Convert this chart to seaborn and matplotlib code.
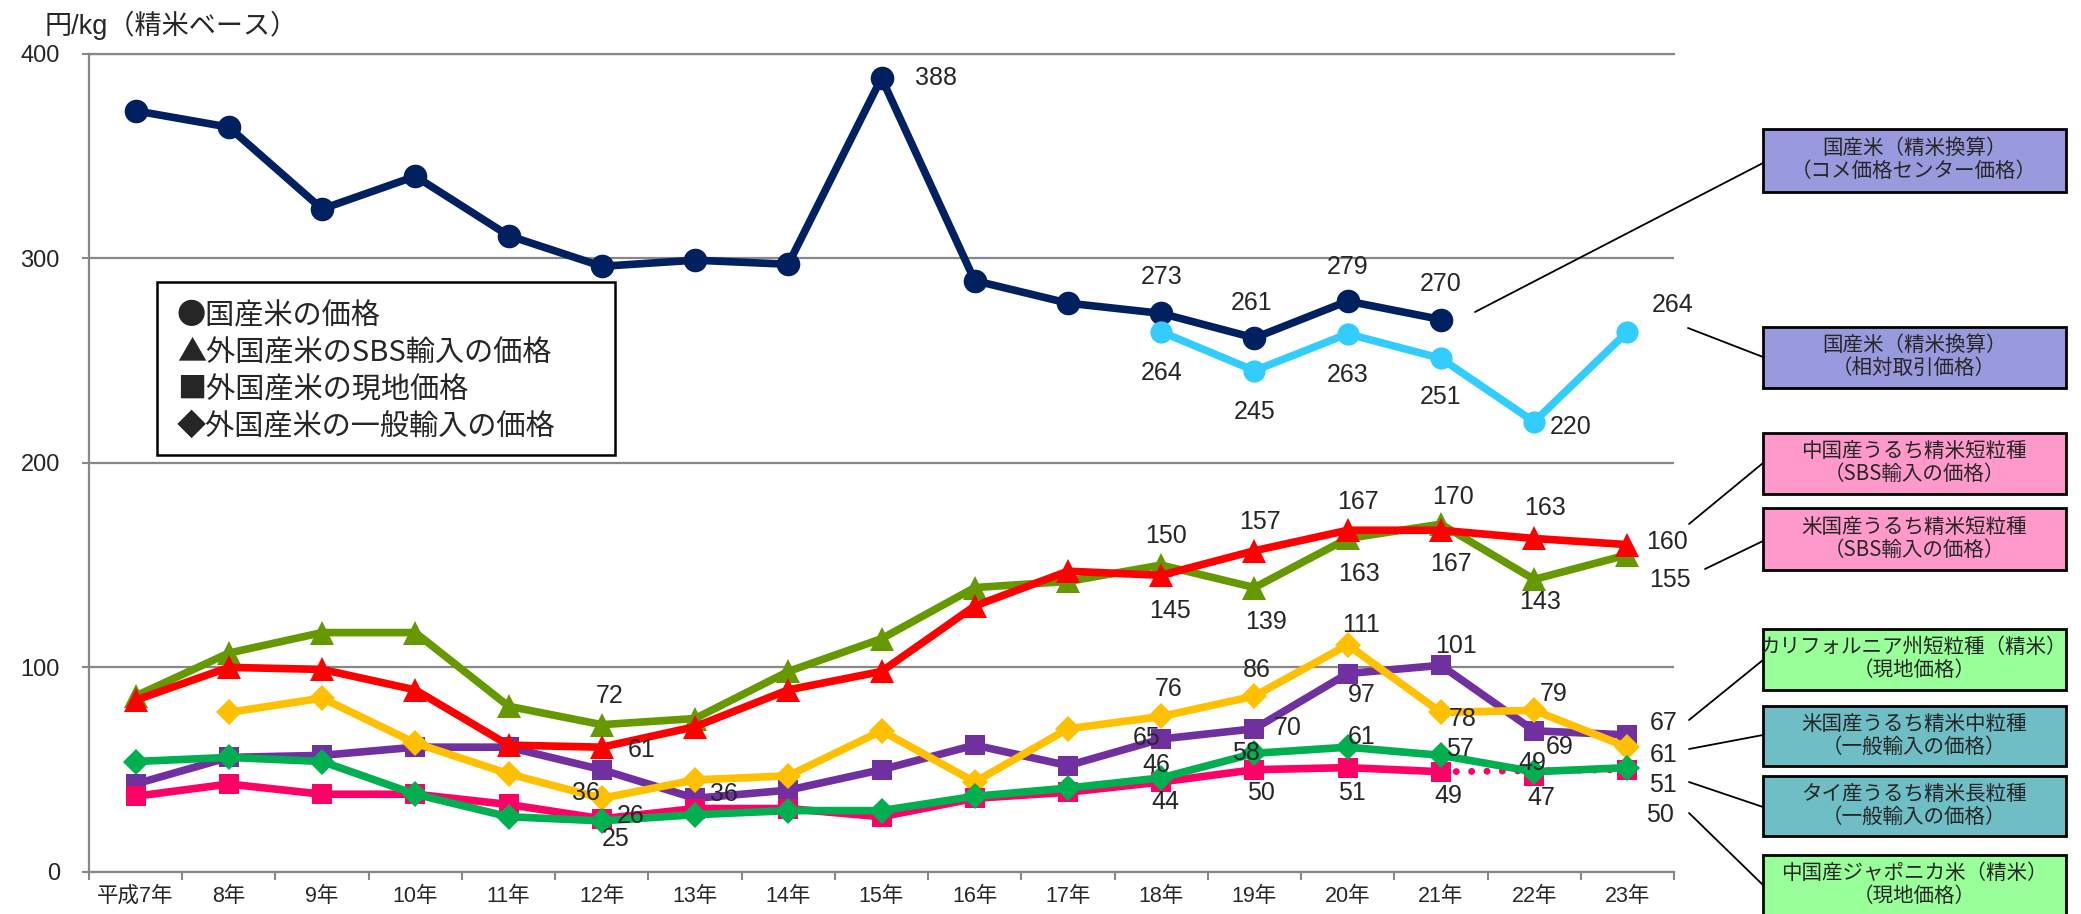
import numpy as np
import matplotlib
matplotlib.use("Agg")
import matplotlib.pyplot as plt
import seaborn as sns
from matplotlib.patches import Rectangle
from matplotlib.lines import Line2D

nan = np.nan

years = ['平成7年', '8年', '9年', '10年', '11年', '12年', '13年', '14年', '15年',
         '16年', '17年', '18年', '19年', '20年', '21年', '22年', '23年']

# 国産米（コメ価格センター価格）
domestic_center = [372, 364, 324, 340, 311, 296, 299, 297, 388, 289, 278, 273, 261, 279, 270, nan, nan]
# 国産米（相対取引価格）
domestic_rel = [nan] * 11 + [264, 245, 263, 251, 220, 264]
# 中国産うるち精米短粒種（SBS）
china_sbs = [84, 100, 99, 89, 62, 61, 71, 89, 98, 130, 147, 145, 157, 167, 167, 163, 160]
# 米国産うるち精米短粒種（SBS）
us_sbs = [86, 107, 117, 117, 81, 72, 75, 98, 114, 139, 142, 150, 139, 163, 170, 143, 155]
# カリフォルニア州短粒種（現地価格）
calif_local = [43, 56, 57, 61, 61, 50, 36, 40, 50, 62, 52, 65, 70, 97, 101, 69, 67]
# 米国産うるち精米中粒種（一般輸入）
us_medium = [nan, 78, 85, 63, 48, 36, 45, 47, 69, 44, 70, 76, 86, 111, 78, 79, 61]
# タイ産うるち精米長粒種（一般輸入）
thai_long = [54, 56, 54, 38, 27, 25, 28, 30, 30, 37, 41, 46, 58, 61, 57, 49, 51]
# 中国産ジャポニカ米（現地価格）
china_jap = [37, 43, 38, 38, 33, 26, 31, 31, 27, 36, 39, 44, 50, 51, 49, 47, 50]

series = {
    'calif': (calif_local, '#7030A0', 's', 15),
    'usmed': (us_medium, '#FFC000', 'D', 13),
    'thai': (thai_long, '#00B050', 'D', 13),
    'ussbs': (us_sbs, '#669900', '^', 17),
    'cnsbs': (china_sbs, '#FF0000', '^', 17),
    'center': (domestic_center, '#002060', 'o', 17),
    'rel': (domestic_rel, '#33CCFF', 'o', 16),
}

# (series, index, dx, dy) offsets in pixels
labels = [
    ('center', 8, 55, 0), ('center', 11, 0, 36), ('center', 12, -3, 35),
    ('center', 13, 0, 34), ('center', 14, 0, 36),
    ('rel', 11, 0, -41), ('rel', 12, 0, -41), ('rel', 13, 0, -41),
    ('rel', 14, 0, -39), ('rel', 15, 36, -5), ('rel', 16, 45, 27),
    ('ussbs', 5, 8, 29), ('cnsbs', 5, 40, -3), ('usmed', 5, -16, 5),
    ('jap', 5, 29, 3), ('thai', 5, 14, -18), ('calif', 6, 29, 4),
    ('ussbs', 11, 5, 29), ('cnsbs', 11, 9, -36), ('cnsbs', 12, 5, 29),
    ('ussbs', 12, 12, -34), ('cnsbs', 13, 10, 28), ('ussbs', 13, 11, -36),
    ('ussbs', 14, 12, 27), ('cnsbs', 14, 10, -34), ('cnsbs', 15, 11, 30),
    ('ussbs', 15, 6, -23), ('cnsbs', 16, 40, 3), ('ussbs', 16, 43, -25),
    ('usmed', 13, 13, 20), ('calif', 14, 15, 19), ('calif', 13, 14, -21),
    ('usmed', 12, 2, 26), ('usmed', 11, 7, 27), ('calif', 11, -15, 1),
    ('thai', 11, -5, 13), ('jap', 11, 4, -20), ('calif', 12, 33, 1),
    ('thai', 12, -8, 0), ('jap', 12, 7, -23), ('thai', 13, 14, 10),
    ('jap', 13, 4, -25), ('usmed', 14, 22, -7), ('thai', 14, 19, 6),
    ('jap', 14, 7, -24), ('usmed', 15, 19, 16), ('calif', 15, 25, -16),
    ('thai', 15, -2, 9), ('jap', 15, 7, -22), ('calif', 16, 36, 12),
    ('usmed', 16, 36, -8), ('thai', 16, 36, -17), ('jap', 16, 33, -45),
]

sns.set_style('white')
plt.rcParams['font.family'] = ['Liberation Sans', 'Noto Sans CJK JP']
CJK = ['Noto Sans CJK JP', 'Liberation Sans']

W, H = 2081, 914
fig = plt.figure(figsize=(W / 100, H / 100), dpi=100)
ax = fig.add_axes([89 / W, 1 - 872 / H, (1674 - 89) / W, (872 - 53.5) / H])
x = np.arange(len(years))


def draw(vals, color, marker, ms, idx=None):
    v = np.array(vals, dtype=float)
    xs = x if idx is None else x[idx]
    v = v if idx is None else v[idx]
    ok = ~np.isnan(v)
    sns.lineplot(x=xs[ok], y=v[ok], ax=ax, color=color, lw=5.5, marker=marker,
                 markersize=ms, markeredgecolor=color, markeredgewidth=0,
                 zorder=3)


draw(*series['calif'])
draw(*series['usmed'])
# pink: solid up to 21年, dotted to 23年
pink = np.array(china_jap, dtype=float)
draw(pink, '#FF0066', 's', 15, idx=slice(0, 15))
sns.lineplot(x=x[[14, 16]], y=pink[[14, 16]], ax=ax, color='#FF0066', lw=5,
             linestyle=(0, (0.01, 2.2)), dash_capstyle='round', zorder=3)
sns.lineplot(x=x[15:], y=pink[15:], ax=ax, color='#FF0066', linestyle='',
             marker='s', markersize=15, markeredgewidth=0, zorder=3)
draw(*series['thai'])
draw(*series['ussbs'])
draw(*series['cnsbs'])
draw(*series['center'])
draw(*series['rel'])

values = {k: v[0] for k, v in series.items()}
values['jap'] = china_jap
for key, i, dx, dy in labels:
    ax.annotate(f"{values[key][i]:.0f}", xy=(x[i], values[key][i]),
                xytext=(dx, dy), textcoords='offset pixels',
                ha='center', va='center', fontsize=18, zorder=5)

ax.set_xlim(-0.5, len(years) - 0.5)
ax.set_ylim(0, 400)
ax.set_yticks([0, 100, 200, 300, 400])
ax.set_xticks(np.arange(len(years) + 1) - 0.5)
ax.set_xticklabels([])
ax.set_xticks(x, minor=True)
ax.set_xticklabels(years, minor=True, fontsize=15.5)
ax.tick_params(axis='x', which='major', length=6, width=1.5, color='#888888',
               direction='out', bottom=True)
ax.tick_params(axis='x', which='minor', length=0, pad=10)
ax.tick_params(axis='y', length=5, width=1.5, color='#888888', direction='out',
               left=True, labelsize=17, pad=16)
ax.yaxis.grid(True, color='#888888', lw=1.6)
ax.set_axisbelow(True)
for s in ['left', 'bottom', 'top']:
    ax.spines[s].set_color('#888888')
    ax.spines[s].set_linewidth(1.6)
ax.spines['right'].set_visible(False)
ax.set_xlabel('')
ax.set_ylabel('')


def fx(px):
    return px / W


def fy(py):
    return 1 - py / H


fig.text(fx(45), fy(25), '円/kg（精米ベース）', fontsize=19.5, va='center', ha='left')

# legend box
fig.patches.append(Rectangle((fx(157), fy(455)), fx(615 - 157), (455 - 282) / H,
                             transform=fig.transFigure, fill=True, fc='white',
                             ec='black', lw=1.8, zorder=4))
legend_lines = ['●国産米の価格', '▲外国産米のSBS輸入の価格', '■外国産米の現地価格', '◆外国産米の一般輸入の価格']
for k, t in enumerate(legend_lines):
    fig.text(fx(177), fy(316 + 37 * k), t, fontsize=21, va='center', ha='left',
             family=CJK, zorder=5)

# right side boxes: (top, bottom, color, text, line start, line end y)
boxes = [
    (129, 192, '#9999DD', '国産米（精米換算）\n（コメ価格センター価格）', (1475, 312), 163),
    (327, 388, '#9999DD', '国産米（精米換算）\n（相対取引価格）', (1688, 328), 357),
    (433, 494, '#FF99CC', '中国産うるち精米短粒種\n（SBS輸入の価格）', (1689, 524), 463),
    (508, 570, '#FF99CC', '米国産うるち精米短粒種\n（SBS輸入の価格）', (1705, 569), 541),
    (629, 690, '#99FF99', 'カリフォルニア州短粒種（精米）\n（現地価格）', (1689, 720), 660),
    (706, 766, '#6FBDC5', '米国産うるち精米中粒種\n（一般輸入の価格）', (1689, 749), 735),
    (776, 836, '#6FBDC5', 'タイ産うるち精米長粒種\n（一般輸入の価格）', (1689, 782), 807),
    (855, 916, '#99FF99', '中国産ジャポニカ米（精米）\n（現地価格）', (1689, 813), 885),
]
for top, bot, col, txt, (lx, ly), ey in boxes:
    fig.patches.append(Rectangle((fx(1763), fy(bot)), fx(2066 - 1763), (bot - top) / H,
                                 transform=fig.transFigure, fc=col, ec='black', lw=2))
    fig.text(fx(1914), fy((top + bot) / 2 - 1), txt, fontsize=14.8, ha='center',
             va='center', linespacing=1.05, family=CJK)
    fig.lines.append(Line2D([fx(lx), fx(1763)], [fy(ly), fy(ey)],
                            transform=fig.transFigure, color='black', lw=1.3))

fig.savefig('out.png', dpi=100)
